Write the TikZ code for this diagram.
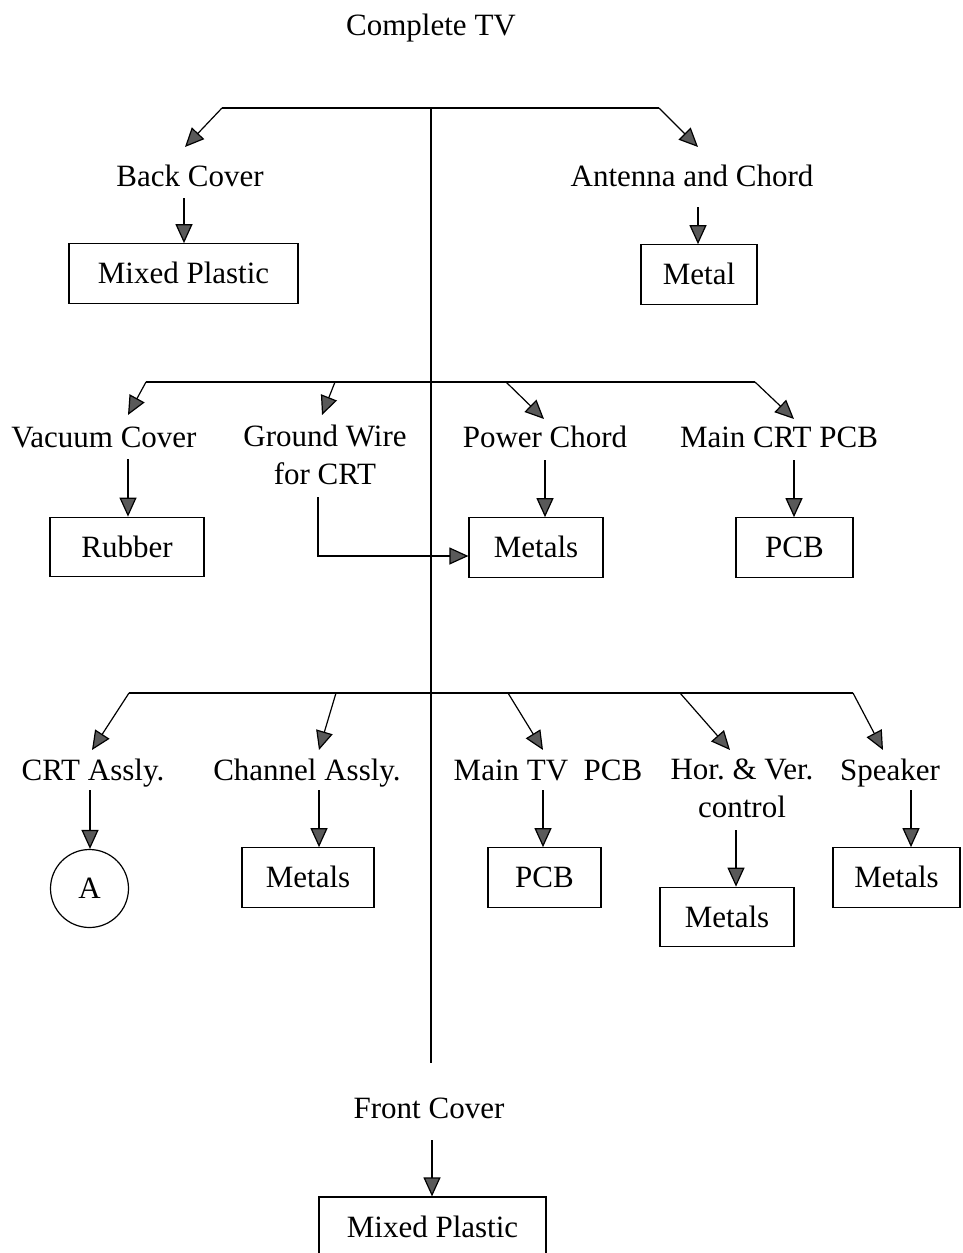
\documentclass[tikz,border=0pt]{standalone}
\usepackage{fontspec}
\setmainfont{Liberation Serif}
\usetikzlibrary{arrows.meta}
\newcommand\dfont{\fontsize{31}{38}\selectfont\frenchspacing}
\tikzset{
  lbl/.style={font=\dfont, inner sep=0pt, anchor=base},
  mlbl/.style={font=\dfont, inner sep=0pt, align=center},
  box/.style={draw, line width=1.2pt, font=\dfont, inner sep=0pt,
              minimum height=59.5pt, text height=20.5pt, text depth=0pt},
  circ/.style={draw, circle, line width=1.2pt, font=\dfont, inner sep=0pt,
               minimum size=78pt},
  ln/.style={line width=1.3pt},
  arr/.style={line width=1.2pt, -{Triangle[length=19pt,width=17pt,fill=black!65]}},
}
\begin{document}
\begin{tikzpicture}[x=1pt,y=-1pt]
\useasboundingbox (0,0) rectangle (962,1253);

% ---------- labels ----------
\node[lbl] (tv)    at (431,35)  {Complete TV};
\node[lbl] (back)  at (190,186) {Back Cover};
\node[lbl] (ant)   at (692,186) {Antenna and Chord};

\node[lbl] (vac)   at (104,447) {Vacuum Cover};
\node[mlbl] (gw)   at (325,455) {Ground Wire\\for CRT};
\node[lbl] (pow)   at (545,447) {Power Chord};
\node[lbl] (mcrt)  at (779,447) {Main CRT PCB};

\node[lbl] (crt)   at (93,780)  {CRT Assly.};
\node[lbl] (chan)  at (307,780) {Channel Assly.};
\node[lbl] (mtv)   at (548,780) {Main TV\ \ PCB};
\node[mlbl] (hv)   at (742,788) {Hor. \& Ver.\\control};
\node[lbl] (spk)   at (890,780) {Speaker};

\node[lbl] (front) at (429,1118) {Front Cover};

% ---------- material boxes ----------
\node[box, minimum width=229pt] (mp1) at (183.5,273.5) {Mixed Plastic};
\node[box, minimum width=116pt] (met) at (699,274.5)   {Metal};
\node[box, minimum width=154pt] (rub) at (127,547)     {Rubber};
\node[box, minimum width=134pt] (m2)  at (536,547.5)   {Metals};
\node[box, minimum width=117pt] (pcb1) at (794.5,547.5) {PCB};
\node[circ] (a) at (89.5,888.5) {A};
\node[box, minimum width=132pt] (m3)  at (308,877.5)   {Metals};
\node[box, minimum width=113pt] (pcb2) at (544.5,877.5) {PCB};
\node[box, minimum width=134pt] (m4)  at (727,917)     {Metals};
\node[box, minimum width=127pt] (m5)  at (896.5,877.5) {Metals};
\node[box, minimum width=227pt, minimum height=80pt, text height=20.5pt] (mp2) at (432.5,1237) {};
\node[font=\dfont, inner sep=0pt, anchor=base] (mp2t) at (432.5,1237) {Mixed Plastic};

% ---------- spine ----------
\coordinate (top)  at (431,108);
\coordinate (bot)  at (431,1063);
\draw[ln] (top) -- (bot);

% ---------- level 1 ----------
\coordinate (l1a) at (222,108);
\coordinate (l1b) at (659,108);
\coordinate (t1a) at (185,147);
\coordinate (t1b) at (698,147);
\draw[ln] (l1a) -- (l1b);
\draw[arr] (l1a) -- (t1a);
\draw[arr] (l1b) -- (t1b);
\coordinate (s1a) at (184,198);
\coordinate (s1b) at (698,207);
\draw[arr] (s1a) -- (s1a |- mp1.north);
\draw[arr] (s1b) -- (s1b |- met.north);

% ---------- level 2 ----------
\coordinate (l2a) at (146,382);
\coordinate (l2b) at (335,382);
\coordinate (l2c) at (506,382);
\coordinate (l2d) at (755,382);
\draw[ln] (l2a) -- (l2d);
\draw[arr] (l2a) -- (128,415);
\draw[arr] (l2b) -- (322,415);
\draw[arr] (l2c) -- (544,419);
\draw[arr] (l2d) -- (794,419);
\coordinate (s2a) at (128,459);
\coordinate (s2c) at (545,460);
\coordinate (s2d) at (794,460);
\draw[arr] (s2a) -- (s2a |- rub.north);
\draw[arr] (s2c) -- (s2c |- m2.north);
\draw[arr] (s2d) -- (s2d |- pcb1.north);
\coordinate (gws) at (318,497);
\coordinate (gwc) at (318,556);
\draw[arr] (gws) -- (gwc) -- (gwc -| m2.west);

% ---------- level 3 ----------
\coordinate (l3a) at (129,693);
\coordinate (l3b) at (336,693);
\coordinate (l3c) at (508,693);
\coordinate (l3d) at (680,693);
\coordinate (l3e) at (853,693);
\draw[ln] (l3a) -- (l3e);
\draw[arr] (l3a) -- (92,750);
\draw[arr] (l3b) -- (319,750);
\draw[arr] (l3c) -- (543,750);
\draw[arr] (l3d) -- (730,750);
\draw[arr] (l3e) -- (883,750);
\coordinate (s3a) at (90,790);
\coordinate (s3b) at (319,790);
\coordinate (s3c) at (543,790);
\coordinate (s3d) at (736,830);
\coordinate (s3e) at (911,790);
\draw[arr] (s3a) -- (s3a |- a.north);
\draw[arr] (s3b) -- (s3b |- m3.north);
\draw[arr] (s3c) -- (s3c |- pcb2.north);
\draw[arr] (s3d) -- (s3d |- m4.north);
\draw[arr] (s3e) -- (s3e |- m5.north);

% ---------- front cover ----------
\coordinate (s4) at (432,1140);
\draw[arr] (s4) -- (s4 |- mp2.north);
\end{tikzpicture}
\end{document}
